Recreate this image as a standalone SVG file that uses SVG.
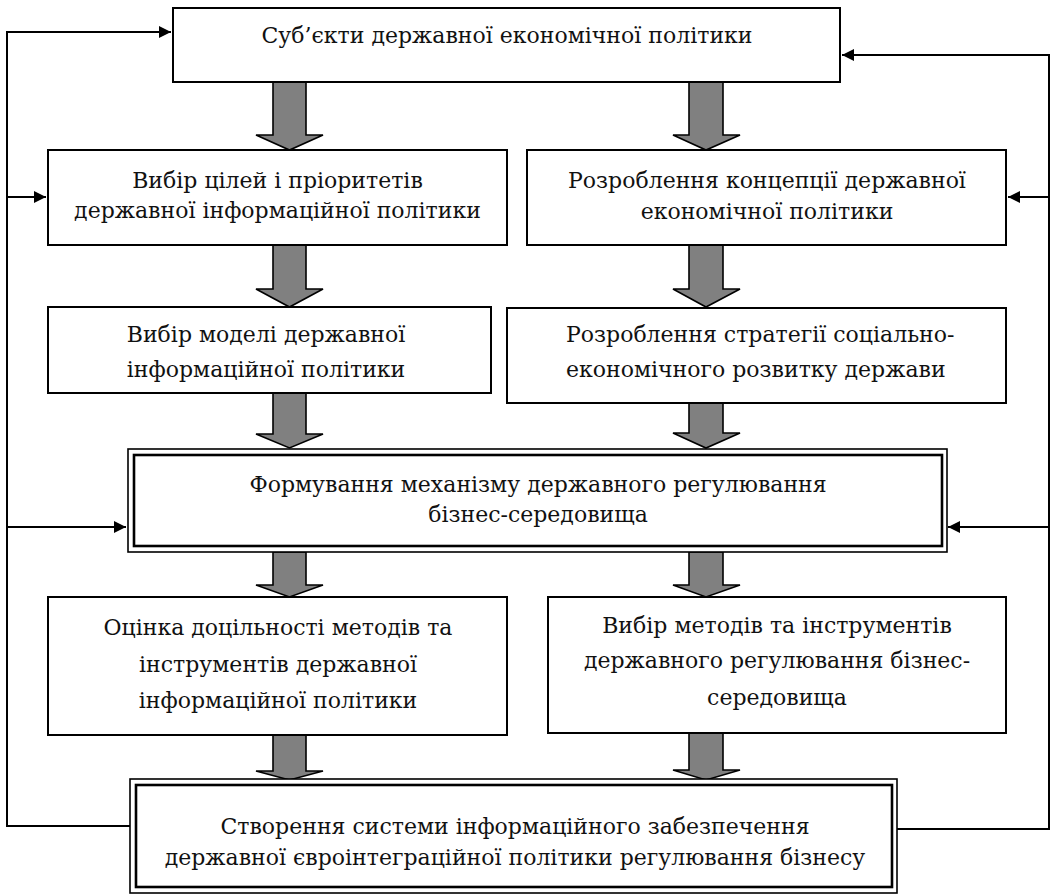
<svg xmlns="http://www.w3.org/2000/svg" width="1051" height="894" viewBox="0 0 1051 894">
<defs>
<style>
.box{fill:#fff;stroke:#000;stroke-width:2}
.outer{fill:#fff;stroke:#000;stroke-width:1.6}
.inner{fill:none;stroke:#000;stroke-width:2.6}
.t{font-family:"DejaVu Serif","Liberation Serif",serif;font-size:22px;fill:#111;text-anchor:middle}
.ts{font-family:"DejaVu Serif","Liberation Serif",serif;font-size:22px;fill:#111;text-anchor:start}
.ga{fill:#808080;stroke:#000;stroke-width:1.6;stroke-linejoin:miter}
.fb{fill:none;stroke:#000;stroke-width:2}
</style>
<marker id="ah" viewBox="0 0 12 12" refX="12" refY="6" markerWidth="12" markerHeight="12" markerUnits="userSpaceOnUse" orient="auto">
<path d="M0,0 L12,6 L0,12 Z" fill="#000"/>
</marker>
</defs>
<rect width="1051" height="894" fill="#fff"/>

<g id="connectors">
<g id="feedback">
<path class="fb" d="M130,826 H7 V32 H171" marker-end="url(#ah)"/>
<path class="fb" d="M7,197 H46" marker-end="url(#ah)"/>
<path class="fb" d="M7,527 H126" marker-end="url(#ah)"/>
<path class="fb" d="M897,829 H1049 V55 H842" marker-end="url(#ah)"/>
<path class="fb" d="M1049,197 H1008" marker-end="url(#ah)"/>
<path class="fb" d="M1049,527 H948" marker-end="url(#ah)"/>
</g>
<g id="flow">
<path class="ga" d="M273,82 V135 H256 L289.5,150 L323,135 H306 V82 Z"/>
<path class="ga" d="M689,82 V135 H673 L706,150 L740,135 H723 V82 Z"/>
<path class="ga" d="M273,245 V289 H256 L289.5,307 L323,289 H306 V245 Z"/>
<path class="ga" d="M689,245 V289 H673 L706,307 L740,289 H723 V245 Z"/>
<path class="ga" d="M273,393 V434 H256 L289.5,448 L323,434 H306 V393 Z"/>
<path class="ga" d="M689,403 V433 H673 L706,448 L740,433 H723 V403 Z"/>
<path class="ga" d="M273,552 V585 H256 L289.5,597 L323,585 H306 V552 Z"/>
<path class="ga" d="M689,552 V585 H673 L706,597 L740,585 H723 V552 Z"/>
<path class="ga" d="M273,735 V771 H256 L289.5,780 L323,771 H306 V735 Z"/>
<path class="ga" d="M689,733 V770 H673 L706,780 L740,770 H723 V733 Z"/>
</g>
</g>

<g id="n1">
<rect class="box" x="173" y="8" width="667" height="74"/>
<text class="t" x="507" y="43">Суб’єкти державної економічної політики</text>
</g>
<g id="n2">
<rect class="box" x="48" y="150" width="459" height="95"/>
<text class="t" x="277.5" y="188">Вибір цілей і пріоритетів</text>
<text class="t" x="277.5" y="218">державної інформаційної політики</text>
</g>
<g id="n3">
<rect class="box" x="527" y="150" width="479" height="95"/>
<text class="t" x="767" y="188">Розроблення концепції державної</text>
<text class="t" x="767" y="219">економічної політики</text>
</g>
<g id="n4">
<rect class="box" x="48" y="307" width="443" height="86"/>
<text class="t" x="266" y="342">Вибір моделі державної</text>
<text class="t" x="266" y="377">інформаційної політики</text>
</g>
<g id="n5">
<rect class="box" x="507" y="308" width="499" height="95"/>
<text class="ts" x="566" y="342">Розроблення стратегії соціально-</text>
<text class="ts" x="566" y="377">економічного розвитку держави</text>
</g>
<g id="n6">
<rect class="outer" x="128" y="449" width="819" height="103"/>
<rect class="inner" x="134" y="455" width="808" height="91"/>
<text class="t" x="538" y="492">Формування механізму державного регулювання</text>
<text class="t" x="538" y="522">бізнес-середовища</text>
</g>
<g id="n7">
<rect class="box" x="48" y="597" width="459" height="138"/>
<text class="t" x="278" y="635">Оцінка доцільності методів та</text>
<text class="t" x="278" y="672">інструментів державної</text>
<text class="t" x="278" y="708">інформаційної політики</text>
</g>
<g id="n8">
<rect class="box" x="548" y="597" width="458" height="136"/>
<text class="t" x="777" y="633">Вибір методів та інструментів</text>
<text class="t" x="777" y="668">державного регулювання бізнес-</text>
<text class="t" x="777" y="705">середовища</text>
</g>
<g id="n9">
<rect class="outer" x="130" y="779" width="767" height="114"/>
<rect class="inner" x="136" y="785" width="756" height="102"/>
<text class="t" x="515" y="834">Створення системи інформаційного забезпечення</text>
<text class="t" x="515" y="865">державної євроінтеграційної політики регулювання бізнесу</text>
</g>
</svg>
